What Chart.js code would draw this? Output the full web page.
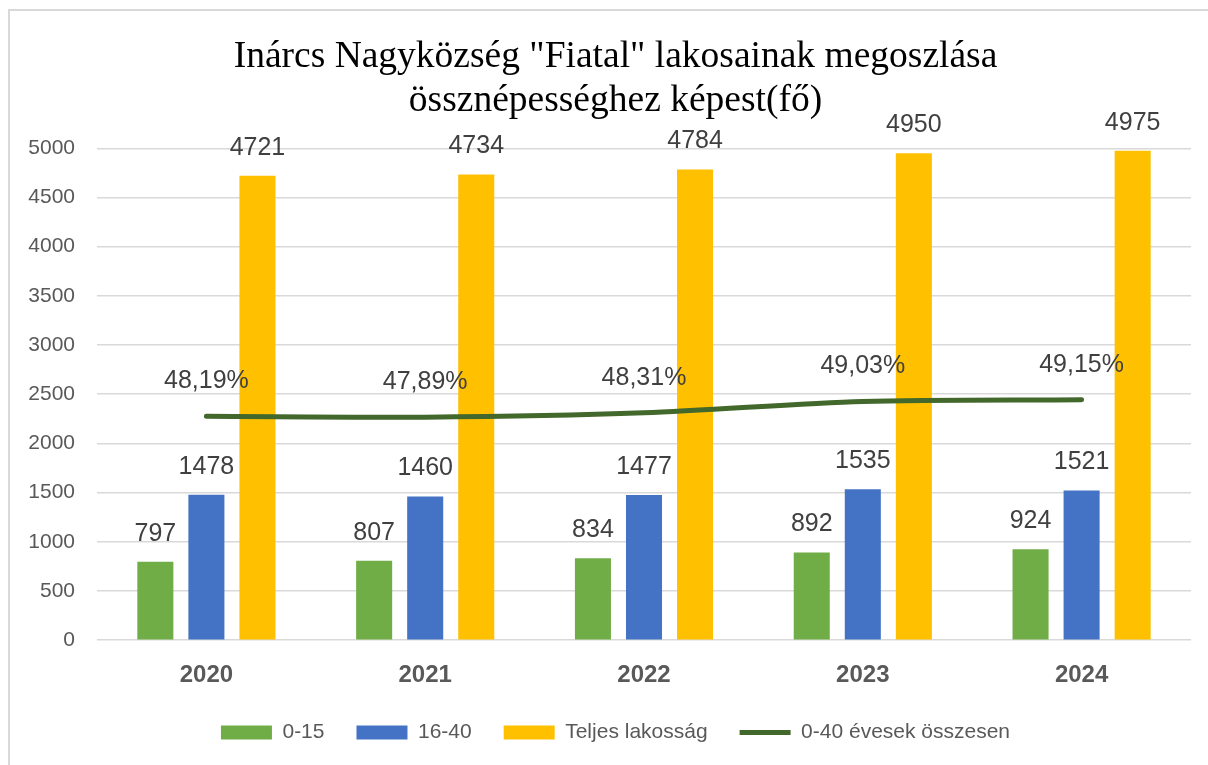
<!DOCTYPE html>
<html>
<head>
<meta charset="utf-8">
<script src="https://cdn.jsdelivr.net/npm/chart.js@4.4.1/dist/chart.umd.min.js"></script>
<style>
  html, body { margin: 0; padding: 0; background: #ffffff; }
  #wrap { width: 1208px; height: 765px; position: relative; }
</style>
</head>
<body>
<div id="wrap"><canvas id="c" width="1208" height="765"></canvas></div>
<script>
// ---- data ----
const years = ['2020', '2021', '2022', '2023', '2024'];
const age0to15 = [797, 807, 834, 892, 924];
const age16to40 = [1478, 1460, 1477, 1535, 1521];
const totalPopulation = [4721, 4734, 4784, 4950, 4975];
const age0to40 = [2275, 2267, 2311, 2427, 2445];
const age0to40Share = ['48,19%', '47,89%', '48,31%', '49,03%', '49,15%'];
const yTicks = [0, 500, 1000, 1500, 2000, 2500, 3000, 3500, 4000, 4500, 5000];
const titleLines = ['Inárcs Nagyközség "Fiatal" lakosainak megoszlása', 'össznépességhez képest(fő)'];
const seriesNames = ['0-15', '16-40', 'Teljes lakosság', '0-40 évesek összesen'];

const SANS = '"Liberation Sans", Arial, sans-serif';

const framePlugin = {
  id: 'frame',
  beforeDraw(chart) {
    const ctx = chart.ctx;
    ctx.save();
    ctx.fillStyle = '#ffffff';
    ctx.fillRect(0, 0, chart.width, chart.height);
    ctx.strokeStyle = '#d9d9d9';
    ctx.lineWidth = 2;
    ctx.strokeRect(9, 10, chart.width + 20, chart.height + 20);
    ctx.restore();
  }
};

const labelPlugin = {
  id: 'valueLabels',
  afterDatasetsDraw(chart) {
    const ctx = chart.ctx;
    ctx.save();
    ctx.textAlign = 'center';
    ctx.textBaseline = 'middle';
    ctx.fillStyle = '#404040';
    ctx.font = '25px ' + SANS;
    chart.data.datasets.forEach((ds, di) => {
      const meta = chart.getDatasetMeta(di);
      meta.data.forEach((el, i) => {
        if (ds.type === 'line') {
          ctx.fillText(age0to40Share[i], el.x, el.y - 35);
        } else {
          ctx.fillText(String(ds.data[i]), el.x, el.y - 28);
        }
      });
    });
    ctx.restore();
  }
};

new Chart(document.getElementById('c'), {
  data: {
    labels: years,
    datasets: [
      { type: 'bar', label: seriesNames[0], data: age0to15, backgroundColor: '#70AD47', borderWidth: 0, pointStyle: 'rect', order: 1 },
      { type: 'bar', label: seriesNames[1], data: age16to40, backgroundColor: '#4472C4', borderWidth: 0, pointStyle: 'rect', order: 1 },
      { type: 'bar', label: seriesNames[2], data: totalPopulation, backgroundColor: '#FFC000', borderWidth: 0, pointStyle: 'rect', order: 1 },
      { type: 'line', label: seriesNames[3], data: age0to40, borderColor: '#43682B', backgroundColor: '#43682B',
        borderWidth: 5, borderCapStyle: 'round', borderJoinStyle: 'round', tension: 0.3, pointRadius: 0, pointHoverRadius: 0,
        pointStyle: 'line', fill: false, order: 0 }
    ]
  },
  options: {
    responsive: false,
    animation: false,
    events: [],
    datasets: {
      bar: { categoryPercentage: 0.70, barPercentage: 0.706 }
    },
    layout: { padding: { left: 40, right: 17, top: 0, bottom: 12 } },
    plugins: {
      title: {
        display: true,
        text: titleLines,
        color: '#000000',
        font: { family: '"Liberation Serif", "Times New Roman", serif', size: 37.5, weight: 'normal', lineHeight: 1.15 },
        padding: { top: 36, bottom: 26 }
      },
      legend: {
        display: true,
        position: 'bottom',
        labels: {
          usePointStyle: true,
          pointStyleWidth: 51,
          boxHeight: 14,
          color: '#595959',
          font: { family: SANS, size: 21 },
          padding: 32,
          sort: (a, b) => a.datasetIndex - b.datasetIndex
        }
      },
      tooltip: { enabled: false }
    },
    scales: {
      x: {
        afterFit(scale) { scale.height = scale.height - 21; },
        grid: { display: false, drawTicks: false },
        border: { display: false },
        ticks: { color: '#595959', font: { family: SANS, size: 24, weight: 'bold' }, padding: 21 }
      },
      y: {
        min: 0,
        max: 5000,
        afterFit(scale) {
          scale.width = 57;
          scale._computeLabelArea = () => undefined;
        },
        afterBuildTicks(scale) { scale.ticks = yTicks.map(v => ({ value: v })); },
        grid: { color: '#d9d9d9', lineWidth: 1.5, drawTicks: false },
        border: { display: false },
        ticks: { color: '#595959', font: { family: SANS, size: 21 }, padding: 22, callback: (v) => String(v) }
      }
    }
  },
  plugins: [framePlugin, labelPlugin]
});
</script>
</body>
</html>
